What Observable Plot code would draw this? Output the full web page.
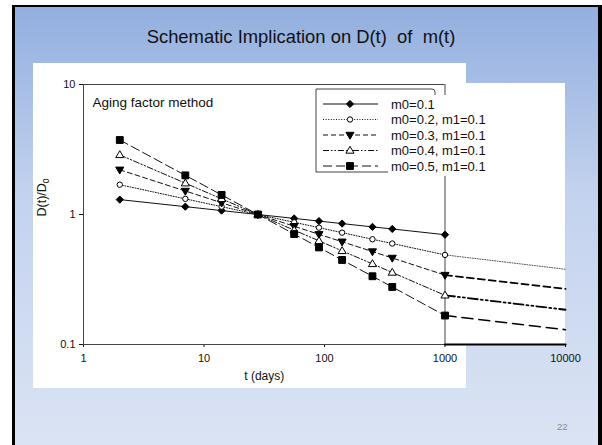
<!DOCTYPE html>
<html><head><meta charset="utf-8">
<script src="https://cdn.jsdelivr.net/npm/d3@7"></script>
<script src="https://cdn.jsdelivr.net/npm/@observablehq/plot@0.6"></script>
<style>
body{margin:0;width:602px;height:445px;overflow:hidden;background:#fff;position:relative;font-family:"Liberation Sans",Arial,sans-serif}
#slide{position:absolute;left:12px;top:5px;width:583px;height:445px;border-left:3px solid #000;border-top:2px solid #000;border-right:4px solid #000;background:linear-gradient(#93afdf 0%,#c3d2ee 42%,#dbe4f4 100%)}
.white{position:absolute;background:#fff}
#title{position:absolute;left:0;top:26px;width:602px;text-align:center;font-size:18.4px;line-height:22px;white-space:pre;color:#111}
#chart{position:absolute;left:0;top:63px}
#page{position:absolute;left:557px;top:421px;font-size:9.5px;color:#8c8c8c}
</style></head>
<body>
<div id="slide"></div>
<div class="white" style="left:33px;top:63px;width:433px;height:325px"></div>
<div class="white" style="left:443px;top:83px;width:122px;height:262px"></div>
<div id="title">Schematic Implication on D(t)  of  m(t)</div>
<div id="chart"></div>
<div id="page">22</div>
<script>
// ---- data ----
const days = [2, 7, 14, 28, 56, 90, 140, 250, 365, 1000];
const m01 = [1.302, 1.149, 1.072, 1.0, 0.933, 0.890, 0.851, 0.803, 0.774, 0.699];
const m02 = [1.695, 1.319, 1.149, 1.0, 0.871, 0.792, 0.725, 0.645, 0.598, 0.489];
const m03 = [2.207, 1.516, 1.231, 1.0, 0.812, 0.704, 0.617, 0.519, 0.463, 0.342];
const m04 = [2.874, 1.741, 1.319, 1.0, 0.758, 0.627, 0.525, 0.417, 0.358, 0.239];
const m05 = [3.741, 2.000, 1.414, 1.0, 0.707, 0.558, 0.447, 0.335, 0.277, 0.167];
const seriesNames = ["m0=0.1", "m0=0.2, m1=0.1", "m0=0.3, m1=0.1", "m0=0.4, m1=0.1", "m0=0.5, m1=0.1"];
// extrapolation beyond the measured range
const extDays = [1000, 10000];
const ext02 = [0.489, 0.379];
const ext03 = [0.342, 0.268];
const ext04 = [0.239, 0.185];
const ext05 = [0.167, 0.130];
const xTicks = [1, 10, 100, 1000, 10000];
const yTicks = [0.1, 1, 10];
const noteText = "Aging factor method";
const xLabel = "t (days)";
const yLabel = "D(t)/D";
const yLabelSub = "0";

// ---- styles ----
const k = s => Math.sqrt(s / Math.PI);
const symDiamond = {draw(c, s){const r = k(s)*1.2; c.moveTo(0,-r); c.lineTo(r,0); c.lineTo(0,r); c.lineTo(-r,0); c.closePath();}};
const symSquare = {draw(c, s){const r = k(s)*0.95; c.rect(-r,-r,2*r,2*r);}};
const symTriDown = {draw(c, s){const r = k(s); c.moveTo(-1.35*r,-0.9*r); c.lineTo(1.35*r,-0.9*r); c.lineTo(0,1.4*r); c.closePath();}};
const symTriUp = {draw(c, s){const r = k(s); c.moveTo(-1.35*r,0.9*r); c.lineTo(1.35*r,0.9*r); c.lineTo(0,-1.4*r); c.closePath();}};
const styles = [
  {dash: null, sym: symDiamond, r: 3, fill: "#000"},
  {dash: "1,1.6", sym: d3.symbolCircle, r: 2.7, fill: "#fff"},
  {dash: "5,3", sym: symTriDown, r: 3, fill: "#000"},
  {dash: "6,2,1.5,2,1.5,2", sym: symTriUp, r: 3, fill: "#fff"},
  {dash: "9,4", sym: symSquare, r: 3.6, fill: "#000"}
];
const extStyles = [
  {stroke: "#555", w: 1, dash: "1,1.5"},
  {stroke: "#000", w: 1.8, dash: "7,4"},
  {stroke: "#000", w: 1.8, dash: "10,3,2,3,2,3"},
  {stroke: "#000", w: 1.6, dash: "11,6"}
];

const allSeries = [m01, m02, m03, m04, m05];
const exts = [ext02, ext03, ext04, ext05];
const frameEnd = days[days.length - 1];

const marks = [
  Plot.ruleX([xTicks[0], frameEnd], {y1: yTicks[0], y2: yTicks[2], stroke: "#444", strokeWidth: 1}),
  Plot.ruleY([yTicks[2], yTicks[0]], {x1: xTicks[0], x2: frameEnd, stroke: "#444", strokeWidth: 1}),
  Plot.line([{t: frameEnd, v: yTicks[0]}, {t: xTicks[4], v: yTicks[0]}], {x: "t", y: "v", stroke: "#000", strokeWidth: 2.2})
];
exts.forEach((e, j) => {
  const st = extStyles[j];
  marks.push(Plot.line(extDays.map((d, i) => ({t: d, v: e[i]})), {x: "t", y: "v", stroke: st.stroke, strokeWidth: st.w, strokeDasharray: st.dash}));
});
allSeries.forEach((s, j) => {
  const st = styles[j];
  const rows = days.map((d, i) => ({t: d, v: s[i]}));
  marks.push(Plot.line(rows, {x: "t", y: "v", stroke: "#111", strokeWidth: 1, strokeDasharray: st.dash}));
});
allSeries.forEach((s, j) => {
  const st = styles[j];
  const rows = days.map((d, i) => ({t: d, v: s[i]}));
  marks.push(Plot.dot(rows, {x: "t", y: "v", symbol: st.sym, r: st.r, fill: st.fill, stroke: "#000", strokeWidth: 1}));
});
marks.push(Plot.text([noteText], {frameAnchor: "top-left", dx: 9, dy: 13, fontSize: 13.5, fill: "#111", textAnchor: "start"}));
marks.push(Plot.text([xLabel], {x: () => Math.sqrt(xTicks[0] * frameEnd), frameAnchor: "bottom", dy: 35, fontSize: 12, fill: "#111"}));
marks.push(Plot.text([yLabel], {frameAnchor: "left", dx: -42, dy: 2, rotate: -90, fontSize: 12.5, fill: "#111"}));

const chart = Plot.plot({
  width: 602, height: 330,
  marginLeft: 83, marginRight: 37, marginTop: 21, marginBottom: 49,
  style: {background: "transparent", fontFamily: "'Liberation Sans', Arial, sans-serif", fontSize: "11px", color: "#111", overflow: "visible"},
  x: {type: "log", domain: [xTicks[0], xTicks[4]], ticks: xTicks, tickFormat: d => String(d), tickSize: 3, tickPadding: 7, label: null},
  y: {type: "log", domain: [yTicks[0], yTicks[2]], ticks: yTicks, tickFormat: d => String(d), tickSize: 4, tickPadding: 4, label: null},
  marks
});
document.getElementById("chart").appendChild(chart);

const svg = d3.select(chart.tagName.toLowerCase() === "svg" ? chart : chart.querySelector("svg"));
// subscript for the y label
svg.selectAll("text").filter(function(){ return this.textContent === yLabel; })
  .append("tspan").attr("dy", 3).attr("font-size", 8.5).text(yLabelSub);

// legend
const lg = svg.append("g").attr("text-anchor", "start");
lg.append("rect").attr("x", 388).attr("y", 32).attr("width", 104).attr("height", 81).attr("fill", "#fff");
lg.append("path").attr("d", "M388,109H316V26H432Q435,26 435,29V32").attr("fill", "none").attr("stroke", "#444");
seriesNames.forEach((name, i) => {
  const st = styles[i];
  const y = 41 + 15.5 * i;
  lg.append("line").attr("x1", 323).attr("x2", 378).attr("y1", y).attr("y2", y)
    .attr("stroke", "#111").attr("stroke-dasharray", st.dash);
  lg.append("path").attr("d", d3.symbol(st.sym, Math.PI * st.r * st.r)())
    .attr("transform", `translate(350,${y})`).attr("fill", st.fill).attr("stroke", "#000");
  lg.append("text").attr("x", 391).attr("y", y).attr("dy", "0.35em").attr("text-anchor", "start")
    .attr("font-size", 13).attr("fill", "#111").text(name);
});
</script>
</body></html>
